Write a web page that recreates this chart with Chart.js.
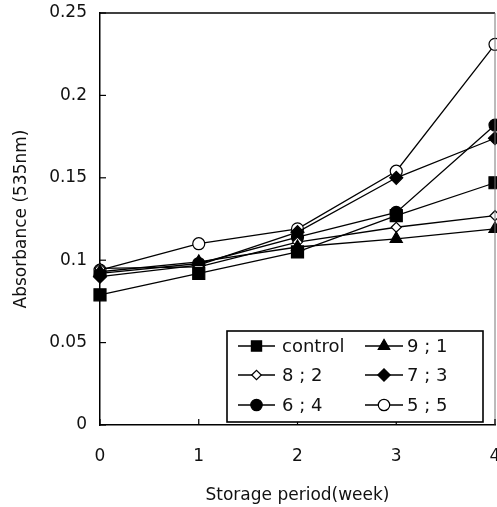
<!DOCTYPE html>
<html>
<head>
<meta charset="utf-8">
<script src="https://cdn.jsdelivr.net/npm/chart.js@4.4.1/dist/chart.umd.min.js"></script>
<style>
html,body{margin:0;padding:0;background:#fff;}
canvas{display:block;}
</style>
</head>
<body>
<canvas id="c" width="497" height="507"></canvas>
<script>
// ---- data ----
const weeks = [0, 1, 2, 3, 4];
const seriesNames = ['control', '9 ; 1', '8 ; 2', '7 ; 3', '6 ; 4', '5 ; 5'];
const control = [0.079, 0.092, 0.105, 0.127, 0.147];
const r91 = [0.093, 0.099, 0.108, 0.113, 0.119];
const r82 = [0.095, 0.096, 0.111, 0.120, 0.127];
const r73 = [0.090, 0.097, 0.117, 0.150, 0.174];
const r64 = [0.092, 0.098, 0.114, 0.129, 0.182];
const r55 = [0.094, 0.110, 0.119, 0.154, 0.231];
const yTicks = [0, 0.05, 0.1, 0.15, 0.2, 0.25];
const xTicks = [0, 1, 2, 3, 4];
const xTitle = 'Storage period(week)';
const yTitle = 'Absorbance (535nm)';

const seriesValues = [control, r91, r82, r73, r64, r55];
const styles = [
  {pointStyle: 'rect', radius: 8.5, fill: '#000'},
  {pointStyle: 'triangle', radius: 7, fill: '#000'},
  {pointStyle: 'rectRot', radius: 5, fill: '#fff'},
  {pointStyle: 'rectRot', radius: 6.5, fill: '#000'},
  {pointStyle: 'circle', radius: 6, fill: '#000'},
  {pointStyle: 'circle', radius: 6, fill: '#fff'}
];

const datasets = seriesValues.map((vals, i) => ({
  label: seriesNames[i],
  data: vals.map((v, j) => ({x: weeks[j], y: v})),
  borderColor: '#000',
  borderWidth: 1.3,
  pointStyle: styles[i].pointStyle,
  pointRadius: styles[i].radius,
  pointBackgroundColor: styles[i].fill,
  pointBorderColor: '#000',
  pointBorderWidth: 1.2,
  tension: 0,
  clip: false
}));

const FONT = 'DejaVu Sans';

const framePlugin = {
  id: 'frame',
  afterDraw(chart) {
    const ctx = chart.ctx;
    const a = chart.chartArea;
    const xs = chart.scales.x, ys = chart.scales.y;
    ctx.save();
    // top border
    ctx.strokeStyle = '#000';
    ctx.lineWidth = 1.5;
    ctx.beginPath();
    ctx.moveTo(a.left, a.top);
    ctx.lineTo(a.right, a.top);
    ctx.stroke();
    // right border (faint)
    ctx.strokeStyle = '#777';
    ctx.lineWidth = 1;
    ctx.beginPath();
    ctx.moveTo(a.right, a.top);
    ctx.lineTo(a.right, a.bottom);
    ctx.stroke();
    // inward ticks
    ctx.strokeStyle = '#000';
    ctx.lineWidth = 1.2;
    yTicks.forEach(v => {
      const py = ys.getPixelForValue(v);
      ctx.beginPath();
      ctx.moveTo(a.left, py);
      ctx.lineTo(a.left + 6, py);
      ctx.stroke();
    });
    xTicks.forEach(v => {
      const px = xs.getPixelForValue(v);
      ctx.beginPath();
      ctx.moveTo(px, a.bottom);
      ctx.lineTo(px, a.bottom - 6);
      ctx.stroke();
    });

    // legend box
    const bx = 227, by = 331, bw = 256, bh = 91;
    ctx.fillStyle = '#fff';
    ctx.fillRect(bx, by, bw, bh);
    ctx.strokeStyle = '#000';
    ctx.lineWidth = 1.6;
    ctx.strokeRect(bx, by, bw, bh);
    const cols = [{x0: 238, x1: 275, tx: 282}, {x0: 365, x1: 403, tx: 407}];
    const rows = [346, 375, 405];
    ctx.font = '18px "' + FONT + '"';
    ctx.textBaseline = 'middle';
    ctx.textAlign = 'left';
    chart.data.datasets.forEach((ds, i) => {
      const c = cols[i % 2], y = rows[Math.floor(i / 2)];
      ctx.strokeStyle = '#000';
      ctx.lineWidth = 1.3;
      ctx.beginPath();
      ctx.moveTo(c.x0, y);
      ctx.lineTo(c.x1, y);
      ctx.stroke();
      ctx.fillStyle = ds.pointBackgroundColor;
      ctx.strokeStyle = '#000';
      ctx.lineWidth = 1.2;
      const r = ds.pointStyle === 'rect' ? ds.pointRadius * 0.85 : ds.pointRadius * 0.95;
      Chart.helpers.drawPoint(ctx, {pointStyle: ds.pointStyle, radius: r, borderWidth: 1.2, rotation: 0}, (c.x0 + c.x1) / 2, y);
      ctx.fillStyle = '#111';
      ctx.fillText(ds.label, c.tx, y + 1);
    });
    ctx.restore();
  }
};

new Chart(document.getElementById('c'), {
  type: 'line',
  data: {datasets},
  options: {
    responsive: false,
    animation: false,
    devicePixelRatio: 1,
    layout: {autoPadding: false, padding: {top: 13, right: 0, bottom: 0, left: 0}},
    plugins: {legend: {display: false}, tooltip: {enabled: false}},
    elements: {line: {fill: false}},
    scales: {
      x: {
        type: 'linear',
        min: 0, max: 4,
        afterBuildTicks: s => { s.ticks = xTicks.map(v => ({value: v})); },
        afterFit: s => { s.height = 82; s.paddingRight = 2; },
        grid: {display: true, drawOnChartArea: false, drawTicks: false},
        border: {display: true, color: '#000', width: 1.5},
        ticks: {color: '#111', font: {family: FONT, size: 17}, padding: 21, maxRotation: 0,
                callback: v => String(v)},
        title: {display: true, text: xTitle, color: '#111', font: {family: FONT, size: 17},
                padding: {top: 0, bottom: 1}}
      },
      y: {
        type: 'linear',
        min: 0, max: 0.25,
        afterBuildTicks: s => { s.ticks = yTicks.map(v => ({value: v})); },
        afterFit: s => { s.width = 100; s.paddingTop = 0; s.paddingBottom = 0; },
        grid: {display: true, drawOnChartArea: false, drawTicks: false},
        border: {display: true, color: '#000', width: 1.5},
        ticks: {color: '#111', font: {family: FONT, size: 17}, padding: 13,
                callback: v => String(v)},
        title: {display: true, text: yTitle, color: '#111', font: {family: FONT, size: 17},
                padding: {top: 11, bottom: 0}}
      }
    }
  },
  plugins: [framePlugin]
});
</script>
</body>
</html>
